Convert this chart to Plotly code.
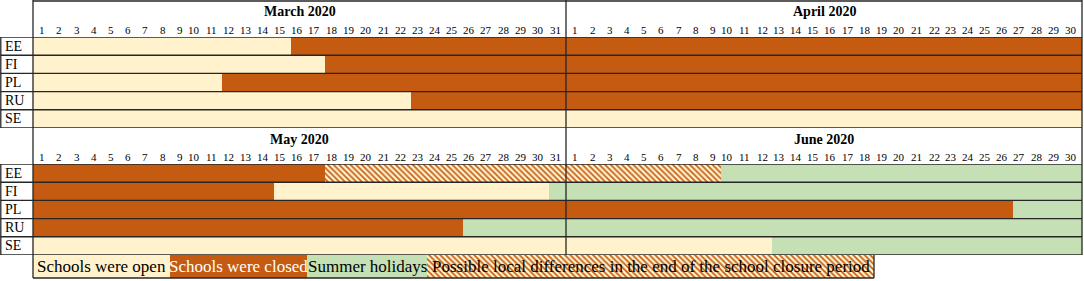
import plotly.graph_objects as go

# ---------------- data ----------------
countries = ["EE", "FI", "PL", "RU", "SE"]

top_months = ["March 2020", "April 2020"]
top_month_days = [31, 30]
bottom_months = ["May 2020", "June 2020"]
bottom_month_days = [31, 30]

# March–April 2020 (day 1 = 1 March, day 32 = 1 April)
top_country = ["EE", "EE", "FI", "FI", "PL", "PL", "RU", "RU", "SE"]
top_status = ["open", "closed", "open", "closed", "open", "closed", "open", "closed", "open"]
top_first = [1, 16, 1, 18, 1, 12, 1, 23, 1]
top_last = [15, 61, 17, 61, 11, 61, 22, 61, 61]

# May–June 2020 (day 1 = 1 May, day 32 = 1 June)
bottom_country = ["EE", "EE", "EE", "FI", "FI", "FI", "PL", "PL", "RU", "RU", "SE", "SE"]
bottom_status = ["closed", "local", "summer", "closed", "open", "summer",
                 "closed", "summer", "closed", "summer", "open", "summer"]
bottom_first = [1, 18, 41, 1, 15, 31, 1, 58, 1, 26, 1, 44]
bottom_last = [17, 40, 61, 14, 30, 61, 57, 61, 25, 61, 43, 61]

status_order = ["open", "closed", "summer", "local"]
status_labels = ["Schools were open", "Schools were closed", "Summer holidays",
                 "Possible local differences in the end of the school closure period"]

# ---------------- style ----------------
W, H = 1084, 281
CREAM = "#FFF2CC"
ORANGE = "#C55A11"
GREEN = "#C5E0B4"
LINE = "#262626"
FONT = "Liberation Serif"
status_colors = {"open": CREAM, "closed": ORANGE, "summer": GREEN, "local": CREAM}
legend_box_px = [137, 137, 120, 447]

GX0, GX1 = 33, 1082           # grid left / right (px)
TOP_R0, TOP_R1 = 37, 128      # top panel rows (px)
BOT_R0, BOT_R1 = 164, 255     # bottom panel rows (px)
LEG_Y1 = 278


def px(x):
    return x / W


def py(y):
    return 1 - y / H


def marker_for(status):
    m = dict(color=status_colors[status], line=dict(width=0))
    if status == "local":
        m["pattern"] = dict(shape="\\", fgcolor=ORANGE, bgcolor=CREAM,
                            size=4, solidity=0.4, fillmode="replace")
    return m


fig = go.Figure()

panels = [
    ("x", "y", top_country, top_status, top_first, top_last),
    ("x2", "y2", bottom_country, bottom_status, bottom_first, bottom_last),
]
for xa, ya, cty, sts, first, last in panels:
    for s in status_order:
        idx = [i for i, v in enumerate(sts) if v == s]
        if not idx:
            continue
        fig.add_trace(go.Bar(
            orientation="h",
            y=[cty[i] for i in idx],
            base=[first[i] - 1 for i in idx],
            x=[last[i] - first[i] + 1 for i in idx],
            marker=marker_for(s),
            xaxis=xa, yaxis=ya, showlegend=False, hoverinfo="skip",
        ))

# legend row drawn as bars
leg_base = []
acc = 0
for w in legend_box_px:
    leg_base.append(acc)
    acc += w
for s, b, w in zip(status_order, leg_base, legend_box_px):
    fig.add_trace(go.Bar(
        orientation="h", y=["legend"], base=[b], x=[w],
        marker=marker_for(s), xaxis="x3", yaxis="y3",
        showlegend=False, hoverinfo="skip",
    ))

annotations = []
for s, lab, b, w in zip(status_order, status_labels, leg_base, legend_box_px):
    annotations.append(dict(
        x=b + w / 2, y="legend", xref="x3", yref="y3", text=lab, showarrow=False,
        xanchor="center", yanchor="middle",
        font=dict(family=FONT, size=17, color="white" if s == "closed" else "black"),
    ))

shapes = []


def hline(y, x0, x1, w=1.3):
    shapes.append(dict(type="line", xref="paper", yref="paper", x0=px(x0), x1=px(x1),
                       y0=py(y), y1=py(y), line=dict(color=LINE, width=w)))


def vline(x, y0, y1, w=1.3):
    shapes.append(dict(type="line", xref="paper", yref="paper", x0=px(x), x1=px(x),
                       y0=py(y0), y1=py(y1), line=dict(color=LINE, width=w)))


# headers: titles and day numbers
headers = [
    (top_months, top_month_days, "x", 12, 29.5, TOP_R0, TOP_R1, "y"),
    (bottom_months, bottom_month_days, "x2", 139, 157, BOT_R0, BOT_R1, "y2"),
]
for months, mdays, xa, ty, dy, r0, r1, ya in headers:
    offset = 0
    for m, nd in zip(months, mdays):
        annotations.append(dict(
            x=offset + nd / 2, y=py(ty), xref=xa, yref="paper", text=m, showarrow=False,
            xanchor="center", yanchor="middle",
            font=dict(family=FONT, size=14, color="black", weight="bold"),
        ))
        for d in range(1, nd + 1):
            annotations.append(dict(
                x=offset + d - 0.17, y=py(dy), xref=xa, yref="paper", text=str(d),
                showarrow=False, xanchor="right", yanchor="middle",
                font=dict(family=FONT, size=11, color="black"),
            ))
        offset += nd
    # row labels and row separators
    for i, c in enumerate(countries):
        annotations.append(dict(
            x=px(3), y=c, xref="paper", yref=ya, text=c, showarrow=False,
            xanchor="left", yanchor="middle",
            font=dict(family=FONT, size=14, color="black"),
        ))
    for k in range(len(countries) + 1):
        shapes.append(dict(type="line", xref="paper", yref=ya, x0=px(0.5), x1=px(GX1),
                           y0=k - 0.5, y1=k - 0.5, line=dict(color=LINE, width=1.4)))
    vline(0.8, r0, r1)

# outer frame
hline(1, GX0, GX1)
vline(GX0, 0, LEG_Y1)
vline(566, 0, BOT_R1)
vline(GX1, 0, BOT_R1)
hline(LEG_Y1, GX0, GX0 + sum(legend_box_px))
vline(GX0 + sum(legend_box_px), BOT_R1, LEG_Y1)

axis_common = dict(visible=False, showgrid=False, zeroline=False, fixedrange=True)
n_days = sum(top_month_days)

fig.update_layout(
    width=W, height=H,
    margin=dict(l=0, r=0, t=0, b=0),
    paper_bgcolor="white", plot_bgcolor="rgba(0,0,0,0)",
    barmode="overlay", bargap=0,
    showlegend=False,
    xaxis=dict(domain=[px(GX0), px(GX1)], range=[0, n_days], anchor="y", **axis_common),
    yaxis=dict(domain=[py(TOP_R1), py(TOP_R0)], categoryorder="array", categoryarray=countries,
               range=[len(countries) - 0.5, -0.5], anchor="x", **axis_common),
    xaxis2=dict(domain=[px(GX0), px(GX1)], range=[0, n_days], anchor="y2", **axis_common),
    yaxis2=dict(domain=[py(BOT_R1), py(BOT_R0)], categoryorder="array", categoryarray=countries,
                range=[len(countries) - 0.5, -0.5], anchor="x2", **axis_common),
    xaxis3=dict(domain=[px(GX0), 1], range=[0, W - GX0], anchor="y3", **axis_common),
    yaxis3=dict(domain=[py(LEG_Y1), py(BOT_R1)], range=[-0.5, 0.5], anchor="x3", **axis_common),
    annotations=annotations,
    shapes=shapes,
)

fig.write_html(
    "out.html",
    config={"displayModeBar": False},
    post_script="document.body.style.margin='0';document.body.style.overflow='hidden';",
)
